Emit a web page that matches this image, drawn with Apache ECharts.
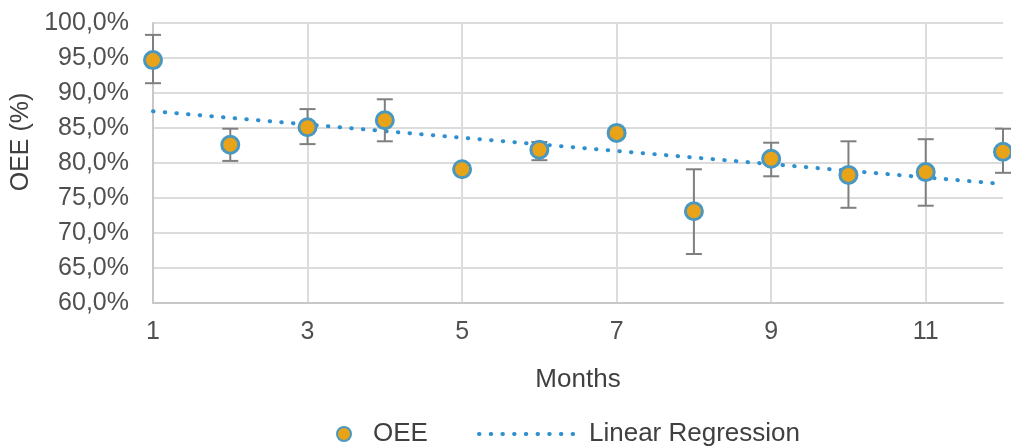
<!DOCTYPE html>
<html>
<head>
<meta charset="utf-8">
<script src="https://cdn.jsdelivr.net/npm/echarts@6/dist/echarts.min.js"></script>
<style>
html,body{margin:0;padding:0;background:#fff;}
#chart{width:1011px;height:448px;}
</style>
</head>
<body>
<div id="chart"></div>
<script>
// Data
var months = [1, 2, 3, 4, 5, 6, 7, 8, 9, 10, 11, 12];
var oee = [94.7, 82.6, 85.1, 86.1, 79.1, 81.9, 84.3, 73.1, 80.6, 78.3, 78.7, 81.6];
var errLow = [91.4, 80.3, 82.7, 83.1, 79.1, 80.4, 84.3, 67.0, 78.1, 73.6, 73.9, 78.6];
var errHigh = [98.3, 84.9, 87.7, 89.1, 79.1, 83.0, 84.3, 79.1, 82.9, 83.1, 83.4, 84.9];
var regMonths = [1, 12];
var regValues = [87.4, 77.0];

var fontFamily = '"Liberation Sans", Arial, sans-serif';

var pointData = months.map(function (m, i) { return [m, oee[i]]; });
var errData = months.map(function (m, i) { return [m, errLow[i], errHigh[i]]; });
var regData = regMonths.map(function (m, i) { return [m, regValues[i]]; });

var chart = echarts.init(document.getElementById('chart'), null, { renderer: 'canvas' });

var dotted = [0.5, 11.2];

var option = {
  backgroundColor: '#ffffff',
  animation: false,
  grid: { left: 153, right: 8, top: 23, bottom: 145 },
  legend: [
    {
      data: ['OEE'],
      left: 331, top: 416,
      itemWidth: 14, itemHeight: 14,
      textStyle: { fontSize: 26, color: '#404040', fontFamily: fontFamily, padding: [0, 0, 0, 17] }
    },
    {
      data: ['Linear Regression'],
      left: 472, top: 416,
      itemWidth: 100, itemHeight: 14,
      itemStyle: { opacity: 0 },
      lineStyle: { color: '#2f8fcf', width: 4, type: dotted, cap: 'round', opacity: 1 },
      textStyle: { fontSize: 26, color: '#404040', fontFamily: fontFamily, padding: [0, 0, 0, 5] }
    }
  ],
  xAxis: {
    type: 'value',
    min: 1, max: 12, interval: 2,
    name: 'Months',
    nameLocation: 'middle',
    nameGap: 64,
    nameTextStyle: { fontSize: 26, color: '#404040', fontFamily: fontFamily },
    axisLine: { show: true, lineStyle: { color: '#c8c8c8', width: 2 } },
    axisTick: { show: false },
    axisLabel: { fontSize: 25, color: '#505050', fontFamily: fontFamily, margin: 17, showMaxLabel: false },
    splitLine: { show: true, showMaxLine: false, lineStyle: { color: '#dcdcdc', width: 2 } }
  },
  yAxis: {
    type: 'value',
    min: 60, max: 100, interval: 5,
    name: 'OEE (%)',
    nameLocation: 'middle',
    nameGap: 116,
    nameTextStyle: { fontSize: 25, color: '#404040', fontFamily: fontFamily, padding: [0, 0, 0, 42] },
    axisLine: { show: true, lineStyle: { color: '#c8c8c8', width: 2 } },
    axisTick: { show: false },
    axisLabel: {
      fontSize: 25, color: '#505050', fontFamily: fontFamily, margin: 24,
      formatter: function (v) { return v.toFixed(1).replace('.', ',') + '%'; }
    },
    splitLine: { show: true, lineStyle: { color: '#dcdcdc', width: 2 } }
  },
  series: [
    {
      name: 'Linear Regression',
      type: 'line',
      data: regData,
      symbol: 'none',
      z: 3,
      lineStyle: { color: '#2f8fcf', width: 4, type: dotted, cap: 'round' },
      itemStyle: { color: '#2f8fcf' }
    },
    {
      name: 'errors',
      type: 'custom',
      data: errData,
      z: 4,
      renderItem: function (params, api) {
        var x = api.value(0);
        var lo = api.coord([x, api.value(1)]);
        var hi = api.coord([x, api.value(2)]);
        var hw = 8;
        var st = { stroke: '#7f7f7f', lineWidth: 2, fill: null };
        return {
          type: 'group',
          children: [
            { type: 'line', shape: { x1: lo[0], y1: lo[1], x2: hi[0], y2: hi[1] }, style: st },
            { type: 'line', shape: { x1: lo[0] - hw, y1: lo[1], x2: lo[0] + hw, y2: lo[1] }, style: st },
            { type: 'line', shape: { x1: hi[0] - hw, y1: hi[1], x2: hi[0] + hw, y2: hi[1] }, style: st }
          ]
        };
      }
    },
    {
      name: 'OEE',
      type: 'scatter',
      data: pointData,
      symbol: 'circle',
      symbolSize: 17,
      z: 5,
      clip: false,
      itemStyle: { color: '#e9a318', borderColor: '#4a98bf', borderWidth: 3, opacity: 1 }
    }
  ]
};

chart.setOption(option);
</script>
</body>
</html>
